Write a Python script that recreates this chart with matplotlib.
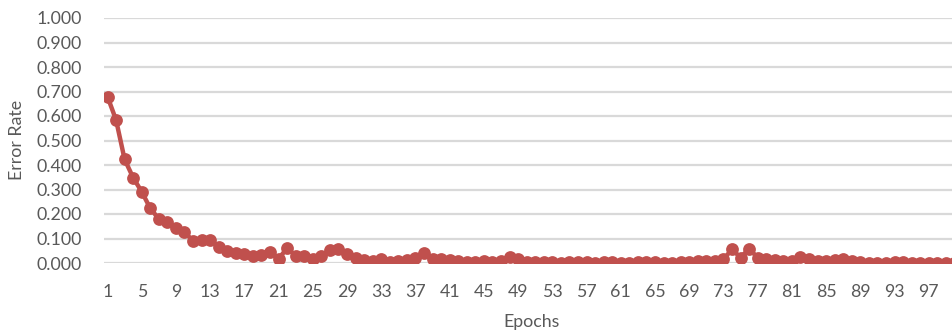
import matplotlib
matplotlib.use("Agg")
import matplotlib.pyplot as plt
from matplotlib.ticker import FixedLocator, FuncFormatter

epochs = list(range(1, 101))
error_rate = [
    0.679, 0.584, 0.423, 0.348, 0.291, 0.223, 0.180, 0.169, 0.142, 0.125,
    0.091, 0.093, 0.092, 0.067, 0.051, 0.040, 0.035, 0.027, 0.032, 0.045,
    0.018, 0.060, 0.030, 0.028, 0.015, 0.030, 0.052, 0.058, 0.036, 0.022,
    0.013, 0.008, 0.015, 0.003, 0.010, 0.012, 0.020, 0.040, 0.018, 0.015,
    0.012, 0.010, 0.005, 0.004, 0.010, 0.005, 0.010, 0.025, 0.018, 0.005,
    0.003, 0.004, 0.003, 0.002, 0.003, 0.004, 0.003, 0.002, 0.003, 0.004,
    0.002, 0.000, 0.003, 0.005, 0.003, 0.000, 0.002, 0.005, 0.003, 0.008,
    0.010, 0.010, 0.015, 0.056, 0.022, 0.058, 0.022, 0.018, 0.012, 0.008,
    0.010, 0.025, 0.015, 0.010, 0.008, 0.012, 0.015, 0.008, 0.003, 0.002,
    0.000, 0.000, 0.005, 0.005, 0.002, 0.000, 0.000, 0.002, 0.000, 0.000,
]
y_ticks = [0.0, 0.1, 0.2, 0.3, 0.4, 0.5, 0.6, 0.7, 0.8, 0.9, 1.0]
x_ticks = list(range(1, 101, 4))

W, H, DPI = 952, 335, 100
plt.rcParams['font.family'] = ['Lato', 'DejaVu Sans']

fig = plt.figure(figsize=(W / DPI, H / DPI), dpi=DPI)
left_px, right_px, top_px, bottom_px = 104, 952, 18, 263
ax = fig.add_axes([left_px / W, (H - bottom_px) / H,
                   (right_px - left_px) / W, (bottom_px - top_px) / H])

px_per_cat = 8.555
x0 = 1 - (107.5 - left_px) / px_per_cat
ax.set_xlim(x0, x0 + (right_px - left_px) / px_per_cat)
ax.set_ylim(0, 1.0)

ax.plot(epochs, error_rate, color='#C0504D', linewidth=3.2,
        marker='o', markersize=9.2, markeredgewidth=0, zorder=3)

ax.yaxis.set_major_locator(FixedLocator(y_ticks))
ax.yaxis.set_major_formatter(FuncFormatter(lambda v, p: f"{v:.3f}"))
ax.xaxis.set_major_locator(FixedLocator(x_ticks))
ax.grid(axis='y', color='#D9D9D9', linewidth=1.6, zorder=0)
ax.set_axisbelow(True)
for s in ax.spines.values():
    s.set_visible(False)
ax.tick_params(axis='both', length=0, labelsize=12.8, colors='#595959')
ax.tick_params(axis='y', pad=16)
ax.tick_params(axis='x', pad=15)

# axis titles placed in figure pixels
fig.text(532 / W, 1 - 322 / H, 'Epochs', fontsize=12.8, color='#595959',
         ha='center', va='center')
fig.text(17 / W, 1 - 140 / H, 'Error Rate', fontsize=12.8, color='#595959',
         ha='center', va='center', rotation=90)

fig.savefig('out.png', dpi=DPI)
